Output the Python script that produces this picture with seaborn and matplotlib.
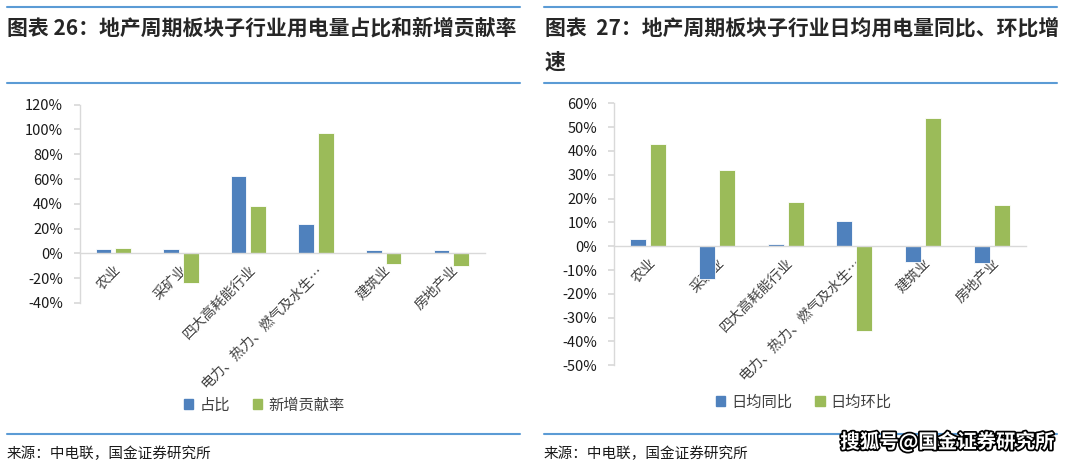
import pandas as pd
import seaborn as sns
from matplotlib import pyplot as plt
from matplotlib.patches import Patch
from matplotlib.ticker import FuncFormatter
import matplotlib.patheffects as pe

categories = ['农业', '采矿业', '四大高耗能行业', '电力、热力、燃气及水生…', '建筑业', '房地产业']

# chart 26
share = [3.5, 3.5, 62.3, 23.4, 2.5, 2.5]
contrib = [4.5, -24.2, 38.1, 97.3, -8.4, -10.5]
series_26 = ['占比', '新增贡献率']

# chart 27
yoy = [3.2, -13.7, 1.1, 10.4, -6.6, -7.1]
mom = [43.0, 31.9, 18.6, -35.8, 53.9, 17.1]
series_27 = ['日均同比', '日均环比']

BLUE = '#4F81BD'
GREEN = '#9BBB59'
LINE = '#5B9BD5'
FONT = ['Noto Sans CJK SC', 'DejaVu Sans']

sns.set_theme(style='white')
plt.rcParams['font.family'] = FONT


def long_df(a, b, names):
    return pd.DataFrame({
        'cat': categories * 2,
        'val': a + b,
        'series': [names[0]] * len(categories) + [names[1]] * len(categories),
    })


def draw_panel(ax, df, names, ylim, step):
    sns.barplot(data=df, x='cat', y='val', hue='series', hue_order=names,
                palette=[BLUE, GREEN], width=0.58, gap=0.2, ax=ax,
                legend=False, edgecolor='white', linewidth=0.6, saturation=1)
    ax.set_ylim(*ylim)
    ax.set_xlim(-0.5, len(categories) - 0.5)
    ax.set_yticks(range(ylim[0], ylim[1] + 1, step))
    ax.yaxis.set_major_formatter(FuncFormatter(lambda v, p: f'{v:.0f}%'))
    ax.set_xlabel('')
    ax.set_ylabel('')
    for s in ['top', 'right']:
        ax.spines[s].set_visible(False)
    for s in ['left', 'bottom']:
        ax.spines[s].set_color('#D9D9D9')
        ax.spines[s].set_linewidth(1.0)
    ax.spines['bottom'].set_position(('data', 0))
    ax.tick_params(axis='y', left=True, length=4, color='#D9D9D9',
                   labelsize=10.5, labelcolor='#1a1a1a', pad=8)
    ax.tick_params(axis='x', bottom=False, length=0, pad=7,
                   labelsize=10, labelcolor='#404040')
    for lbl in ax.get_xticklabels():
        lbl.set_rotation(45)
        lbl.set_ha('right')
        lbl.set_va('top')
        lbl.set_rotation_mode('anchor')
    ax.set_facecolor('white')


fig = plt.figure(figsize=(10.8, 4.7), dpi=100)
fig.patch.set_facecolor('white')

W, H = 1080, 470
ax1 = fig.add_axes([79.5 / W, 1 - 303 / H, 405.5 / W, 198.3 / H])
ax2 = fig.add_axes([614 / W, 1 - 365.3 / H, 412 / W, 262 / H])

draw_panel(ax1, long_df(share, contrib, series_26), series_26, (-40, 120), 20)
draw_panel(ax2, long_df(yoy, mom, series_27), series_27, (-50, 60), 10)

# header / footer rules
for x0, x1 in [(7, 520), (544, 1057)]:
    for y in [7, 83, 434]:
        fig.add_artist(plt.Line2D([x0 / W, x1 / W], [1 - y / H, 1 - y / H],
                                  color=LINE, linewidth=1.5))

fig.text(7 / W, 1 - 28 / H, '图表 26：地产周期板块子行业用电量占比和新增贡献率',
         fontsize=15, fontweight='bold', fontstyle='italic', va='center', ha='left')
fig.text(545 / W, 1 - 28 / H, '图表  27：地产周期板块子行业日均用电量同比、环比增',
         fontsize=15, fontweight='bold', fontstyle='italic', va='center', ha='left')
fig.text(545 / W, 1 - 62 / H, '速',
         fontsize=15, fontweight='bold', fontstyle='italic', va='center', ha='left')

# legends
for names, cx, cy in [(series_26, 264, 405), (series_27, 804, 402)]:
    handles = [Patch(color=BLUE, label=names[0]), Patch(color=GREEN, label=names[1])]
    fig.legend(handles=handles, loc='center', bbox_to_anchor=(cx / W, 1 - cy / H),
               ncol=2, frameon=False, fontsize=11, handlelength=0.6,
               handleheight=0.6, handletextpad=0.4, columnspacing=1.5,
               labelcolor='#404040')

fig.text(7 / W, 1 - 454 / H, '来源：中电联，国金证券研究所', fontsize=10.5,
         va='center', ha='left', color='#1a1a1a')
fig.text(544 / W, 1 - 454 / H, '来源：中电联，国金证券研究所', fontsize=10.5,
         va='center', ha='left', color='#1a1a1a')

wm = fig.text(1055 / W, 1 - 442 / H, '搜狐号@国金证券研究所', fontsize=14,
              fontweight='bold', color='white', va='center', ha='right')
wm.set_path_effects([pe.withStroke(linewidth=2.5, foreground='black')])

fig.savefig('out.png', dpi=100, facecolor='white')
